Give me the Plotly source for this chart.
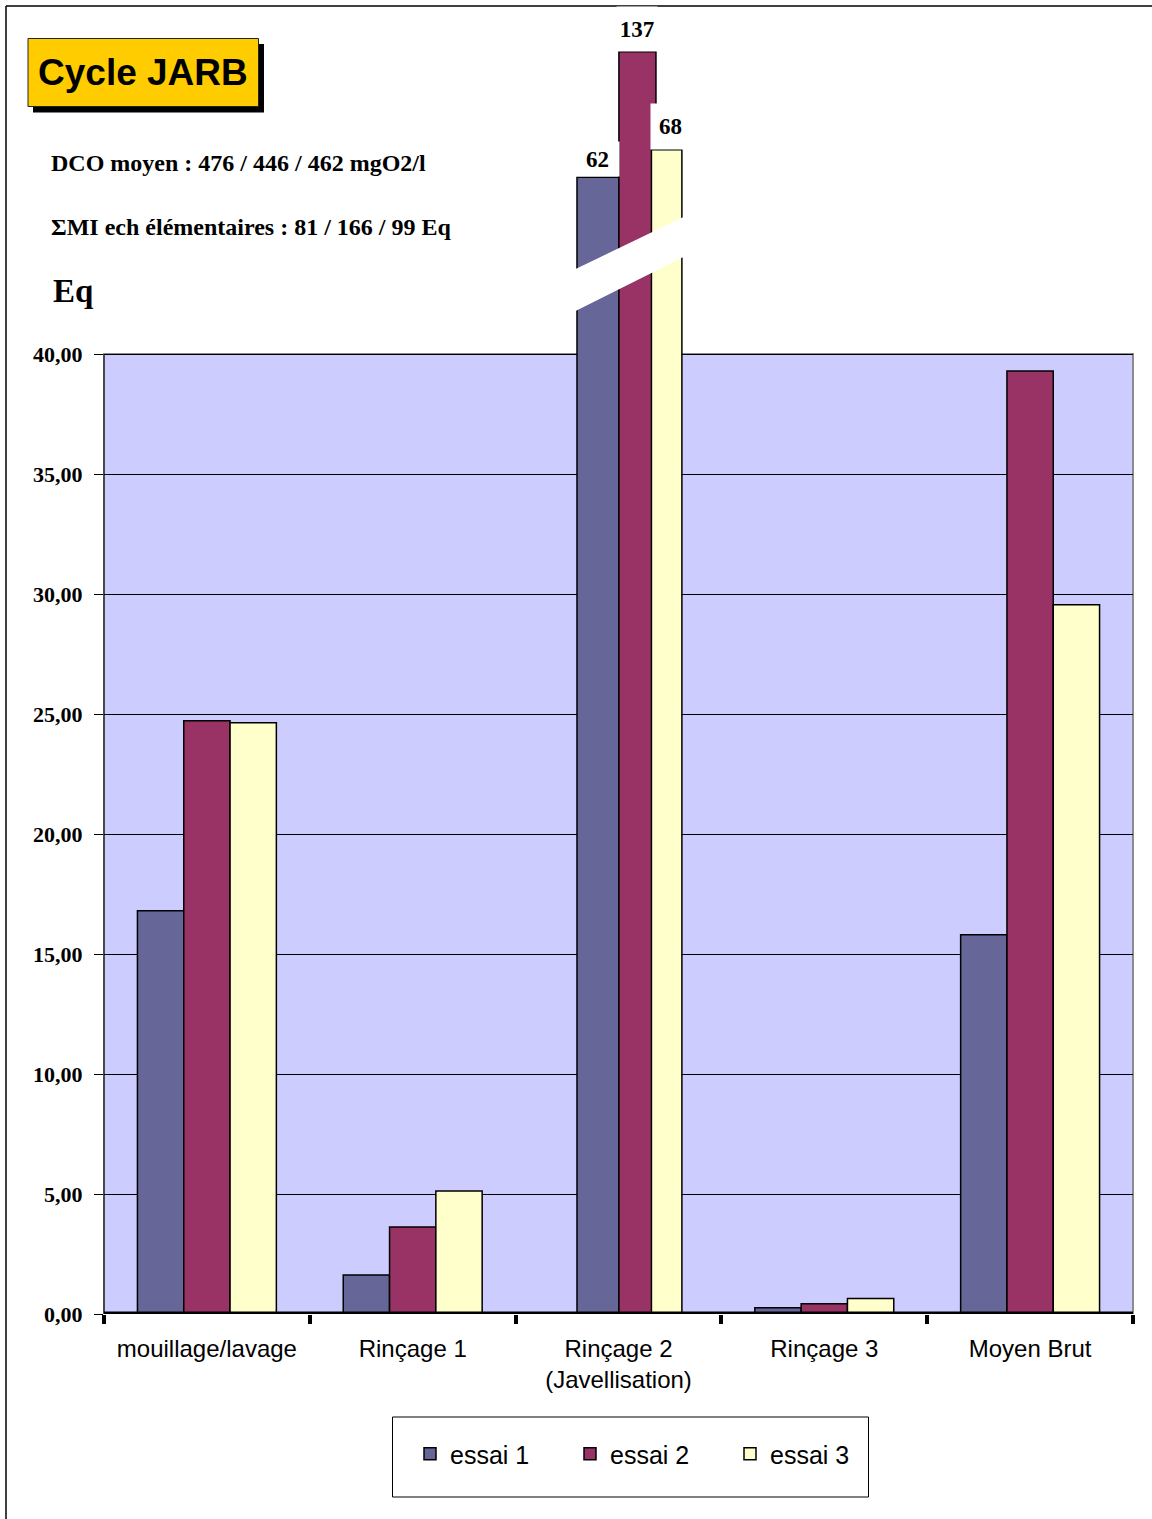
import numpy as np
import plotly.graph_objects as go

# ---- data -------------------------------------------------------------
categories = ["mouillage/lavage", "Rinçage 1", "Rinçage 2<br>(Javellisation)",
              "Rinçage 3", "Moyen Brut"]
series_names = ["essai 1", "essai 2", "essai 3"]
essai_1 = [16.80, 1.62, 62, 0.26, 15.80]
essai_2 = [24.72, 3.62, 137, 0.43, 39.29]
essai_3 = [24.64, 5.12, 68, 0.65, 29.55]
y_tick_values = [0, 5, 10, 15, 20, 25, 30, 35, 40]
y_tick_labels = ["0,00", "5,00", "10,00", "15,00", "20,00",
                 "25,00", "30,00", "35,00", "40,00"]
title_text = "Cycle JARB"
dco_text = "DCO moyen : 476 / 446 / 462 mgO2/l"
smi_text = "ΣMI ech élémentaires : 81 / 166 / 99 Eq"
y_unit_text = "Eq"

# ---- styling / geometry ----------------------------------------------
W, H = 1152, 1519
PLOT_L, PLOT_R = 104, 1133
PLOT_T = 20
Y0_PX = 1314            # pixel row of value 0
PX_PER_UNIT = 24.0
Y_MAX = (Y0_PX - PLOT_T) / PX_PER_UNIT
AXIS_CAP = 40           # top of the regular scale; above it the axis is broken

colors = ["#666699", "#993366", "#FFFFCC"]
bg_color = "#CCCCFF"
serif = "Liberation Serif"
sans = "Liberation Sans"

# bar slots (in category units): regular groups and the broken group
bar_width = 0.225
bar_offsets = [-0.3375, -0.1125, 0.1125]
broken_idx = 2
broken_widths = [0.204, 0.180, 0.148]
broken_offsets = [-0.2017, 0.002, 0.160]
# white boxes behind the value labels of the broken group: (width, height, xshift)
label_boxes = [(43, 34, 0), (40, 44, 0), (39, 45, 4)]


def broken_scale(v):
    """Values above the cap are compressed into the strip above the plot area."""
    if v <= AXIS_CAP:
        return v
    return AXIS_CAP + 12.9 * (1 - np.exp(-(v - AXIS_CAP) / 26.0))


def px_x(px):
    return (px - PLOT_L) / (PLOT_R - PLOT_L)


def px_y(py):
    return (Y0_PX - py) / (Y0_PX - PLOT_T)


fig = go.Figure()
all_series = [essai_1, essai_2, essai_3]
for j, (name, vals) in enumerate(zip(series_names, all_series)):
    widths = [bar_width] * len(categories)
    offsets = [bar_offsets[j]] * len(categories)
    widths[broken_idx] = broken_widths[j]
    offsets[broken_idx] = broken_offsets[j]
    fig.add_trace(go.Bar(
        x=categories,
        y=[broken_scale(v) for v in vals],
        customdata=vals,
        hovertemplate="%{x}<br>" + name + " : %{customdata}<extra></extra>",
        name=name,
        width=widths,
        offset=offsets,
        marker=dict(color=colors[j], line=dict(color="black", width=1.5)),
    ))

shapes = []
# plot area background and border (only the regular 0-40 part)
shapes.append(dict(type="rect", xref="paper", yref="y", x0=0, x1=1, y0=0, y1=AXIS_CAP,
                   fillcolor=bg_color, line=dict(width=0), layer="below"))
shapes.append(dict(type="rect", xref="paper", yref="y", x0=0, x1=1, y0=0, y1=AXIS_CAP,
                   fillcolor="rgba(0,0,0,0)", line=dict(color="#8c8c8c", width=2),
                   layer="between"))
shapes.append(dict(type="line", xref="paper", yref="y", x0=0, x1=0, y0=0, y1=AXIS_CAP,
                   line=dict(color="#333333", width=1.5), layer="between"))
# thick category axis line
shapes.append(dict(type="line", xref="paper", yref="y", x0=0, x1=1, y0=0, y1=0,
                   line=dict(color="black", width=5), layer="above"))
# break mark across the broken group
bx0 = broken_idx - 0.211
bx1 = broken_idx + 0.318
shapes.append(dict(type="path", xref="x", yref="y",
                   path=f"M {bx0},41.78 L {bx1},44.05 L {bx1},45.72 L {bx0},43.53 Z",
                   fillcolor="white", line=dict(width=0), layer="above"))
# title box with drop shadow
shapes.append(dict(type="rect", xref="paper", yref="paper",
                   x0=px_x(33), x1=px_x(264), y0=px_y(112.5), y1=px_y(44),
                   fillcolor="black", line=dict(width=0)))
shapes.append(dict(type="rect", xref="paper", yref="paper",
                   x0=px_x(28), x1=px_x(258.5), y0=px_y(106.5), y1=px_y(38.5),
                   fillcolor="#FFCC00", line=dict(color="#222222", width=1)))
# legend frame
shapes.append(dict(type="rect", xref="paper", yref="paper",
                   x0=px_x(392.5), x1=px_x(868.5), y0=px_y(1497), y1=px_y(1417),
                   fillcolor="rgba(0,0,0,0)", line=dict(color="black", width=1)))
# outer frame (top and left edges)
shapes.append(dict(type="line", xref="paper", yref="paper",
                   x0=px_x(6), x1=px_x(1160), y0=px_y(6), y1=px_y(6),
                   line=dict(color="black", width=1.5)))
shapes.append(dict(type="line", xref="paper", yref="paper",
                   x0=px_x(6), x1=px_x(6), y0=px_y(6), y1=px_y(1530),
                   line=dict(color="black", width=1.5)))

annotations = []
annotations.append(dict(text=title_text, xref="paper", yref="paper",
                        x=px_x(36), y=px_y(72), xanchor="left", yanchor="middle",
                        showarrow=False,
                        font=dict(family=sans, size=37, color="black", weight="bold")))
annotations.append(dict(text=dco_text, xref="paper", yref="paper",
                        x=px_x(49), y=px_y(163), xanchor="left", yanchor="middle",
                        showarrow=False,
                        font=dict(family=serif, size=24, color="black", weight="bold")))
annotations.append(dict(text=smi_text, xref="paper", yref="paper",
                        x=px_x(49), y=px_y(227), xanchor="left", yanchor="middle",
                        showarrow=False,
                        font=dict(family=serif, size=24, color="black", weight="bold")))
annotations.append(dict(text=y_unit_text, xref="paper", yref="paper",
                        x=px_x(51), y=px_y(291), xanchor="left", yanchor="middle",
                        showarrow=False,
                        font=dict(family=serif, size=33, color="black", weight="bold")))

# value labels of the broken group
for j, vals in enumerate(all_series):
    v = vals[broken_idx]
    bw, bh, xs = label_boxes[j]
    annotations.append(dict(
        text=f"{v:g}", xref="x", yref="y",
        x=broken_idx + broken_offsets[j] + broken_widths[j] / 2,
        y=broken_scale(v), xanchor="center", yanchor="bottom",
        xshift=xs, width=bw, height=bh, valign="middle", align="center",
        bgcolor="white", borderpad=0, showarrow=False,
        font=dict(family=serif, size=23, color="black", weight="bold")))

fig.update_layout(
    width=W, height=H,
    margin=dict(l=PLOT_L, r=W - PLOT_R, t=PLOT_T, b=H - Y0_PX, pad=0, autoexpand=False),
    paper_bgcolor="white",
    plot_bgcolor="rgba(0,0,0,0)",
    barmode="overlay",
    showlegend=True,
    legend=dict(orientation="h", x=px_x(410), y=px_y(1431), xanchor="left", yanchor="top",
                bgcolor="rgba(0,0,0,0)", borderwidth=0, itemwidth=30,
                entrywidth=115, entrywidthmode="pixels", traceorder="normal",
                font=dict(family=sans, size=25, color="black")),
    shapes=shapes,
    annotations=annotations,
    xaxis=dict(type="category", range=[-0.5, 4.5], showline=False, showgrid=False,
               zeroline=False, ticks="outside", tickson="boundaries", ticklen=9,
               tickwidth=4, tickcolor="black", ticklabelstandoff=18,
               tickfont=dict(family=sans, size=24, color="black")),
    yaxis=dict(range=[0, Y_MAX], tickmode="array", tickvals=y_tick_values,
               ticktext=y_tick_labels, showline=False, showgrid=True,
               gridcolor="black", gridwidth=1, zeroline=False, ticks="outside",
               ticklen=9, tickwidth=1, tickcolor="black", ticklabelstandoff=7,
               tickfont=dict(family=serif, size=22, color="black", weight="bold")),
)

fig.write_html("out.html")
